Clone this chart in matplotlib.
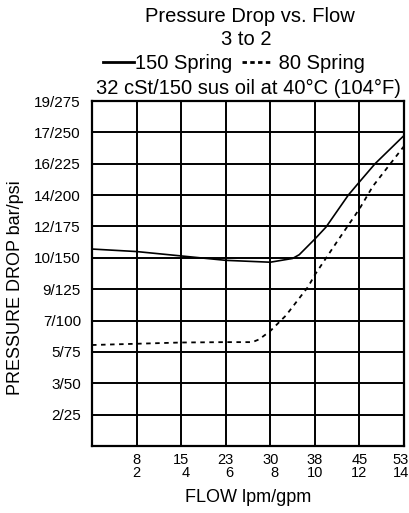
import matplotlib
matplotlib.use("Agg")
import matplotlib.pyplot as plt
import matplotlib.transforms as mtransforms
from matplotlib.lines import Line2D

plt.rcParams['font.family'] = ['Liberation Sans', 'DejaVu Sans']

# flow in gpm, pressure drop in psi
flow_150 = [0, 2, 4, 6, 8, 9.0, 9.3, 10, 10.5, 11.5, 12, 12.7, 14]
psi_150 = [157, 155, 151.5, 148, 146.5, 149.5, 152.5, 165, 174.5, 200, 210.5, 225, 247.5]

flow_80 = [0, 2, 4, 6, 7.2, 7.5, 8, 8.7, 9.7, 10, 11, 12, 12.6, 14]
psi_80 = [80.5, 81.5, 82.5, 82.8, 82.8, 85, 91.7, 104, 127, 136.5, 163, 189, 207, 239]

x_ticks = [2, 4, 6, 8, 10, 12, 14]
x_labels = ["8\n2", "15\n4", "23\n6", "30\n8", "38\n10", "45\n12", "53\n14"]
y_ticks = [25, 50, 75, 100, 125, 150, 175, 200, 225, 250, 275]
y_labels = ["2/25", "3/50", "5/75", "7/100", "9/125", "10/150",
            "12/175", "14/200", "16/225", "17/250", "19/275"]

fig = plt.figure(figsize=(4.1, 5.13), dpi=100)
ax = fig.add_axes([0.2244, 0.1306, 0.761, 0.6725])

ax.plot(flow_150, psi_150, color='black', lw=1.2)
ax.plot(flow_80, psi_80, color='black', lw=1.3, linestyle=(0, (2.5, 2.5)))

ax.set_xlim(0, 14)
ax.set_ylim(0, 275)
ax.set_xticks(x_ticks)
ax.set_xticklabels(x_labels, fontsize=10.5, linespacing=0.95, multialignment='right')
ax.set_yticks(y_ticks)
ax.set_yticklabels(y_labels, fontsize=11)
ax.tick_params(length=0, pad=5)
ax.tick_params(axis='y', pad=8)
ax.grid(True, color='black', lw=1.4)
for s in ax.spines.values():
    s.set_linewidth(1.6)

# last flow label sits against the right edge
last = ax.get_xticklabels()[-1]
last.set_transform(last.get_transform() + mtransforms.ScaledTranslation(-3 / 100, 0, fig.dpi_scale_trans))

fig.text(0.61, 0.967, "Pressure Drop vs. Flow", ha='center', va='center', fontsize=14.5)
fig.text(0.60, 0.923, "3 to 2", ha='center', va='center', fontsize=14.5)
fig.text(0.606, 0.828, "32 cSt/150 sus oil at 40°C (104°F)", ha='center', va='center', fontsize=14.5)

handles = [Line2D([], [], color='black', lw=2.0),
           Line2D([], [], color='black', lw=2.0, linestyle=(0, (1.6, 1.2)))]
fig.legend(handles, ["150 Spring", " 80 Spring"], loc='center', bbox_to_anchor=(0.571, 0.877),
           ncol=2, frameon=False, fontsize=14.5, handlelength=1.5, handletextpad=0.05,
           columnspacing=0.5, borderpad=0)

fig.text(0.037, 0.44, "PRESSURE DROP bar/psi", rotation=90, ha='center', va='center', fontsize=13)
fig.text(0.605, 0.031, "FLOW lpm/gpm", ha='center', va='center', fontsize=13)

fig.savefig("out.png", dpi=100)
